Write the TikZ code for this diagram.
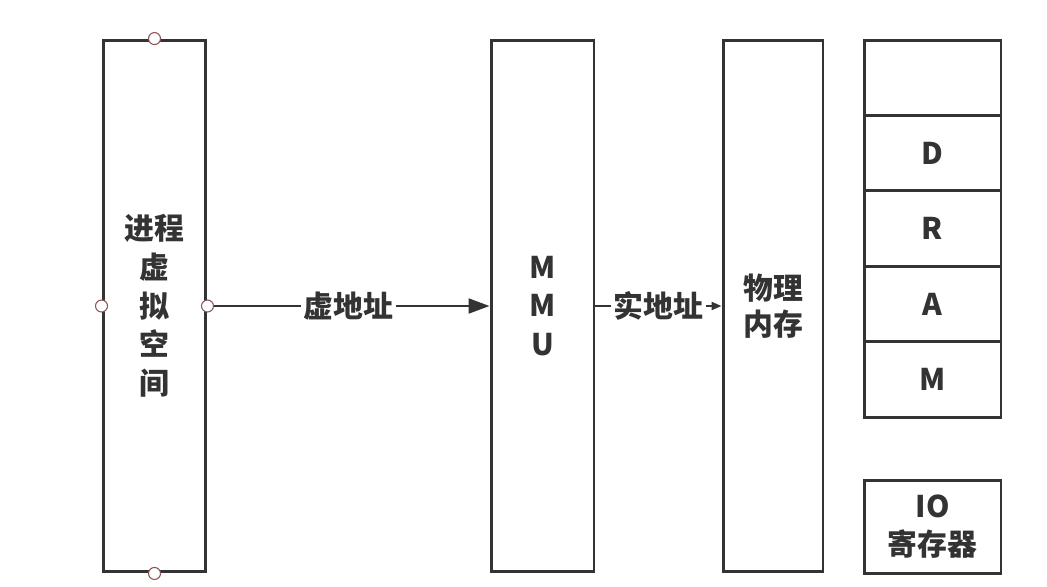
\documentclass[tikz,border=0pt]{standalone}
\usepackage{fontspec}
\setmainfont{Noto Sans CJK SC}
\usetikzlibrary{arrows.meta}
\definecolor{ink}{HTML}{333333}
\definecolor{portc}{HTML}{8C5252}
\tikzset{
  box/.style={draw=ink, line width=1.7pt, minimum width=2.06cm, minimum height=10.64cm, inner sep=0pt,
    align=center, text=ink, font=\fontsize{17}{22}\selectfont\bfseries},
  cell/.style={draw=ink, line width=1.7pt, minimum width=2.74cm, minimum height=1.508cm, inner sep=0pt,
    align=center, text=ink, font=\fontsize{17}{22}\selectfont\bfseries},
  port/.style={circle, draw=portc, fill=white, line width=0.6pt, minimum size=0.24cm, inner sep=0pt},
  addr/.style={fill=white, text=ink, inner sep=1.5pt, font=\fontsize{17}{22}\selectfont\bfseries},
}
\begin{document}
\begin{tikzpicture}[x=0.02cm, y=-0.02cm]
 \useasboundingbox (0,0) rectangle (1047,586);
 \node[box] (vas) at (154.5,306) {进程\\虚\\拟\\空\\间};
 \node[box] (mmu) at (542.5,306) {M\\M\\U};
 \node[box, minimum width=2cm, font=\fontsize{17}{20.5}\selectfont\bfseries] (pmem) at (773,306) {物理\\内存};
 \foreach \lbl [count=\i] in {{},D,R,A,M}{
    \node[cell] (dram\i) at (932.5,{40+75.4*(\i-0.5)}) {\lbl};
 }
 \node[cell, minimum height=1.86cm] (io) at (932.5,526.5) {IO\\寄存器};
 \draw [ink, line width=1.2pt, -{Triangle[length=0.42cm,width=0.3cm]}] (vas.east) -- node[addr]{虚地址} (mmu.west);
 \draw [ink, line width=1.2pt, -{Triangle[length=0.2cm,width=0.16cm]}] (mmu.east) -- node[addr]{实地址} (pmem.west);
 \foreach \a in {north,south,west,east}{
    \node[port] at (vas.\a) {};
 }
\end{tikzpicture}
\end{document}
